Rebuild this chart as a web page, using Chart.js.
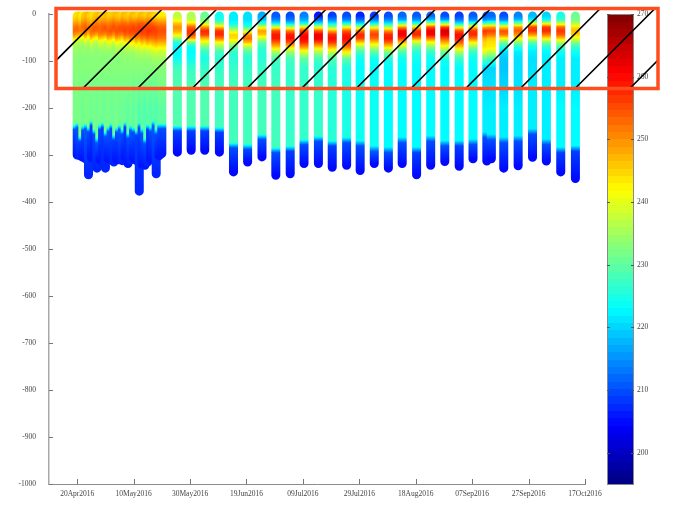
<!DOCTYPE html>
<html>
<head>
<meta charset="utf-8">
<script src="https://cdn.jsdelivr.net/npm/chart.js@4.4.0/dist/chart.umd.min.js"></script>
<style>
  body { margin: 0; background: #fff; }
  canvas { display: block; }
</style>
</head>
<body>
<canvas id="myChart" width="679" height="518"></canvas>
<script>
// x values are days since 20 Apr 2016
var tickDays = [0, 20, 40, 60, 80, 100, 120, 140, 160, 180];
var tickLabels = ['20Apr2016', '10May2016', '30May2016', '19Jun2016', '09Jul2016',
                  '29Jul2016', '18Aug2016', '07Sep2016', '27Sep2016', '17Oct2016'];
var colorTicks = [200, 210, 220, 230, 240, 250, 260, 270];
var cMin = 195, cMax = 270;

// depth levels (m) where each profile's colour was read
var upperDepths = [-4, -12, -20, -28, -36, -44, -52, -60, -70, -80, -95, -115, -150, -200];

var profileDays = [
  0, 1, 2, 3, 4, 5, 6, 7, 8, 9, 10, 11, 12, 13, 14, 15, 16, 17, 18, 19, 20,
  21, 22, 23, 24, 25, 26, 27, 28, 29, 30,
  35.5, 40.4, 45.2, 50.4, 55.4, 60.4, 65.5, 70.4, 75.5, 80.4, 85.5, 90.4,
  95.5, 100.3, 105.3, 110.3, 115.2, 120.3, 125.3, 130.3, 135.4, 140.3,
  145.2, 146.8, 151.2, 156.3, 161.4, 166.3, 171.4, 176.6
];

var upperTemps = [
  [244,246,249,252,253,250,244,238,235,234,233,233,232,232],
  [245,247,250,253,253,249,242,237,235,234,233,233,233,232],
  [243,245,248,251,252,248,241,236,234,233,233,233,232,232],
  [246,248,251,253,252,247,240,236,234,234,233,233,232,231],
  [247,249,252,254,254,250,244,238,235,234,233,233,232,232],
  [245,247,250,252,251,246,240,236,234,233,233,233,232,232],
  [244,246,249,252,253,251,246,240,236,234,233,233,232,231],
  [246,248,251,254,254,250,243,237,235,234,233,233,232,232],
  [247,249,252,254,253,248,241,236,234,233,233,233,232,231],
  [245,248,251,253,253,251,246,240,236,234,233,233,232,232],
  [246,249,252,254,254,251,245,239,236,234,233,233,232,231],
  [247,249,252,255,254,250,243,237,235,234,233,233,232,231],
  [245,248,251,253,254,252,247,241,237,234,233,233,232,232],
  [246,249,252,254,255,252,246,240,236,234,233,233,232,231],
  [247,250,253,255,254,250,244,238,235,234,233,233,232,231],
  [246,249,252,254,255,253,248,242,237,235,233,233,232,232],
  [245,248,252,255,255,252,247,241,237,235,233,233,232,231],
  [247,250,253,255,255,251,245,240,236,234,233,233,232,231],
  [246,249,253,255,256,254,249,243,238,235,234,233,232,231],
  [245,248,252,255,255,253,248,242,237,235,233,233,232,230],
  [247,250,253,255,256,254,250,244,238,235,234,233,232,231],
  [246,249,253,256,256,254,249,243,238,235,233,233,231,230],
  [245,249,253,255,256,255,251,246,240,236,234,233,232,231],
  [247,250,254,256,256,254,250,244,239,236,234,233,231,229],
  [246,250,254,256,257,255,252,247,241,237,234,233,232,230],
  [245,249,253,256,256,255,251,246,240,236,234,233,231,229],
  [247,250,254,256,257,256,253,248,242,237,234,233,232,230],
  [246,250,254,256,257,255,252,247,241,237,234,233,231,229],
  [245,249,253,256,256,255,252,248,243,238,235,233,231,230],
  [244,248,252,255,256,255,253,249,244,239,235,233,231,229],
  [243,247,251,254,255,254,252,248,243,238,235,233,232,230],
  [237,240,246,250,248,243,234,226,223,223,224,228,229,229],
  [236,237,244,254,257,256,248,232,224,223,224,227,229,229],
  [231,232,238,250,258,256,247,240,232,227,225,227,229,229],
  [224,225,232,246,257,258,252,242,234,228,226,227,228,228],
  [222,222,224,230,238,245,244,238,231,227,226,227,228,228],
  [221,221,223,228,238,250,253,247,236,229,226,227,228,228],
  [217,219,226,240,249,246,238,231,227,226,226,227,228,228],
  [211,214,222,240,255,259,259,254,246,236,228,227,228,228],
  [210,213,221,236,252,259,260,255,245,235,228,227,227,227],
  [214,217,224,243,256,260,261,258,250,240,230,227,227,227],
  [206,212,222,240,254,262,262,256,246,236,228,226,227,227],
  [209,214,222,234,248,258,260,257,248,238,229,226,226,226],
  [210,214,224,242,254,259,260,258,252,243,230,225,225,225],
  [207,212,221,236,252,258,256,246,235,228,224,223,224,224],
  [209,214,223,240,252,256,253,246,237,230,224,223,224,224],
  [210,214,222,236,250,258,259,254,244,233,225,223,223,223],
  [212,216,230,250,261,262,257,247,237,229,224,223,223,223],
  [211,215,226,245,257,258,250,238,230,226,224,223,223,223],
  [212,218,236,255,262,261,252,242,233,227,224,223,223,223],
  [210,216,234,256,264,262,255,248,240,232,225,223,223,223],
  [209,213,222,240,255,260,259,254,246,236,227,223,223,223],
  [211,215,226,246,257,258,252,243,234,227,224,223,223,223],
  [211,215,228,248,257,254,248,245,244,240,230,220,221,222],
  [212,216,230,249,256,252,246,244,243,238,228,220,221,222],
  [210,214,226,245,255,252,242,232,225,221,219,219,220,222],
  [214,218,232,250,254,250,242,233,226,222,221,221,221,222],
  [218,222,240,256,257,250,240,230,224,222,221,221,222,222],
  [220,223,240,256,258,252,243,233,226,223,222,222,222,222],
  [225,227,238,253,257,254,246,236,228,224,222,222,222,223],
  [231,232,236,244,247,245,240,233,227,224,222,222,222,223]
];

// depth where the blue deep layer begins
var thermoDepths = [
  -240, -236, -265, -242, -238, -245, -232, -250, -268, -240, -236, -255, -244, -238, -262, -246,
  -240, -250, -235, -258, -242, -246, -252, -236, -248, -270, -240, -244, -232, -250, -238,
  -243, -243, -243, -246, -279, -282, -261, -289, -286, -272, -265, -275,
  -268, -275, -286, -289, -268, -289, -265, -275, -275, -272,
  -257, -262, -268, -265, -250, -272, -289, -286
];
var blueTemps = [
  210, 211, 209, 210, 211, 210, 209, 210, 211, 210, 209, 210, 211, 210, 209, 210,
  211, 210, 209, 210, 211, 210, 209, 210, 211, 210, 209, 210, 211, 210, 210,
  209, 209, 209, 209, 210, 210, 210, 210, 209, 210, 210, 209,
  210, 210, 211, 210, 210, 209, 210, 210, 209, 210,
  210, 210, 210, 210, 210, 210, 209, 209
];
var bottomDepths = [
  -300, -302, -305, -308, -342, -305, -308, -328, -310, -312, -328, -308, -310, -315, -310, -310,
  -312, -305, -318, -310, -308, -312, -377, -320, -322, -315, -310, -308, -340, -302, -297,
  -294, -290, -290, -294, -336, -315, -304, -343, -340, -318, -318, -326,
  -322, -333, -318, -328, -318, -342, -322, -314, -324, -308,
  -313, -308, -328, -323, -305, -313, -336, -350
];
var bottomTemps = [
  206, 207, 206, 206, 207, 206, 206, 207, 206, 206, 207, 206, 206, 207, 206, 206,
  207, 206, 206, 207, 206, 206, 207, 206, 206, 207, 206, 206, 207, 206, 206,
  205, 205, 205, 205, 205, 205, 205, 205, 205, 205, 205, 205,
  205, 205, 205, 205, 205, 205, 205, 205, 205, 205,
  205, 205, 205, 205, 205, 205, 205, 205
];

function jet(t) {
  t = Math.max(0, Math.min(1, t));
  var r = Math.max(0, Math.min(1, 1.5 - Math.abs(4 * t - 3)));
  var g = Math.max(0, Math.min(1, 1.5 - Math.abs(4 * t - 2)));
  var b = Math.max(0, Math.min(1, 1.5 - Math.abs(4 * t - 1)));
  return 'rgb(' + Math.round(r * 255) + ',' + Math.round(g * 255) + ',' + Math.round(b * 255) + ')';
}
function tempColor(v) {
  return jet((v - cMin) / (cMax - cMin));
}

function profilePoints(i) {
  var pts = [];
  var day = profileDays[i];
  for (var j = 0; j < upperDepths.length; j++) {
    pts.push({x: day, y: upperDepths[j], t: upperTemps[i][j]});
  }
  pts.push({x: day, y: thermoDepths[i] + 6, t: upperTemps[i][upperDepths.length - 1]});
  pts.push({x: day, y: thermoDepths[i] - 6, t: blueTemps[i]});
  pts.push({x: day, y: bottomDepths[i], t: bottomTemps[i]});
  return pts;
}

// vertical gradient along the profile, coloured with the jet map
function profileGradient(context) {
  var chart = context.chart;
  if (!chart.chartArea) return 'rgba(0,0,0,0)';
  var ys = chart.scales.y;
  var pts = context.dataset.data;
  var y0 = ys.getPixelForValue(pts[0].y);
  var y1 = ys.getPixelForValue(pts[pts.length - 1].y);
  var grad = chart.ctx.createLinearGradient(0, y0, 0, y1);
  for (var k = 0; k < pts.length; k++) {
    var f = (ys.getPixelForValue(pts[k].y) - y0) / (y1 - y0);
    grad.addColorStop(Math.max(0, Math.min(1, f)), tempColor(pts[k].t));
    if (k < pts.length - 1) {
      var f2 = (ys.getPixelForValue(pts[k + 1].y) - y0) / (y1 - y0);
      for (var s = 1; s < 4; s++) {
        var a = s / 4;
        grad.addColorStop(f + (f2 - f) * a, tempColor(pts[k].t + (pts[k + 1].t - pts[k].t) * a));
      }
    }
  }
  return grad;
}

var datasets = [];
for (var i = 0; i < profileDays.length; i++) {
  datasets.push({
    data: profilePoints(i),
    showLine: true,
    borderWidth: 9,
    borderCapStyle: 'round',
    borderJoinStyle: 'round',
    borderColor: profileGradient,
    pointRadius: 0,
    pointHoverRadius: 0,
    tension: 0,
    clip: false,
    order: profileDays.length - i
  });
}

var extras = {
  id: 'extras',
  afterDraw: function(chart) {
    var ctx = chart.ctx;
    var area = chart.chartArea;
    var xs = chart.scales.x, ys = chart.scales.y, cs = chart.scales.cb;
    ctx.save();

    // inward tick marks
    ctx.strokeStyle = '#777';
    ctx.lineWidth = 1;
    ctx.beginPath();
    xs.ticks.forEach(function(t) {
      var px = Math.round(xs.getPixelForValue(t.value)) + 0.5;
      ctx.moveTo(px, area.bottom);
      ctx.lineTo(px, area.bottom - 5);
    });
    ys.ticks.forEach(function(t) {
      var py = Math.round(ys.getPixelForValue(t.value)) + 0.5;
      ctx.moveTo(area.left, py);
      ctx.lineTo(area.left + 4, py);
    });
    ctx.stroke();

    // colour bar
    var bx0 = area.right + 22, bw = 27;
    for (var k = 0; k < 64; k++) {
      var v0 = cMin + k * (cMax - cMin) / 64;
      var v1 = cMin + (k + 1) * (cMax - cMin) / 64;
      var py0 = cs.getPixelForValue(v1), py1 = cs.getPixelForValue(v0);
      ctx.fillStyle = jet((k + 0.5) / 64);
      ctx.fillRect(bx0, Math.floor(py0), bw, Math.ceil(py1) - Math.floor(py0));
    }
    ctx.strokeStyle = '#8a8a8a';
    ctx.strokeRect(bx0 + 0.5, cs.top + 0.5, bw - 1, cs.bottom - cs.top);
    ctx.strokeStyle = '#555';
    ctx.beginPath();
    colorTicks.forEach(function(v) {
      var py = Math.round(cs.getPixelForValue(v)) + 0.5;
      ctx.moveTo(bx0, py); ctx.lineTo(bx0 + 3, py);
      ctx.moveTo(bx0 + bw - 3, py); ctx.lineTo(bx0 + bw, py);
    });
    ctx.stroke();

    // hatched highlight box drawn over the picture
    var bxL = 56, bxR = 658, byT = 8.5, byB = 88.5;
    ctx.save();
    ctx.beginPath();
    ctx.rect(bxL, byT, bxR - bxL, byB - byT);
    ctx.clip();
    ctx.strokeStyle = '#000';
    ctx.lineWidth = 1.6;
    ctx.beginPath();
    for (var h = -2; h < 13; h++) {
      var hx = 82.7 + 54.7 * h;
      ctx.moveTo(hx, byB);
      ctx.lineTo(hx + (byB - byT), byT);
    }
    ctx.stroke();
    ctx.restore();
    ctx.strokeStyle = '#ff4d1f';
    ctx.lineWidth = 3.5;
    ctx.strokeRect(bxL, byT, bxR - bxL, byB - byT);

    ctx.restore();
  }
};

var tickFont = {family: 'Liberation Serif', size: 7.5};

new Chart(document.getElementById('myChart').getContext('2d'), {
  type: 'scatter',
  data: {datasets: datasets},
  plugins: [extras],
  options: {
    responsive: false,
    animation: false,
    events: [],
    layout: {padding: {top: 14, left: 0, right: 0, bottom: 0}},
    plugins: {legend: {display: false}, tooltip: {enabled: false}},
    scales: {
      x: {
        type: 'linear',
        position: 'bottom',
        min: -10,
        max: 180,
        afterBuildTicks: function(axis) {
          axis.ticks = tickDays.map(function(d) { return {value: d}; });
        },
        afterFit: function(axis) { axis.height = 34; },
        grid: {display: false},
        border: {display: true, color: '#8c8c8c', width: 1},
        ticks: {
          font: tickFont,
          color: '#444',
          padding: -2,
          maxRotation: 0,
          autoSkip: false,
          callback: function(value) {
            var idx = tickDays.indexOf(value);
            return idx >= 0 ? tickLabels[idx] : '';
          }
        }
      },
      y: {
        type: 'linear',
        position: 'left',
        min: -1000,
        max: 0,
        afterFit: function(axis) { axis.width = 49; },
        grid: {display: false},
        border: {display: true, color: '#a8a8a8', width: 1.5},
        ticks: {
          stepSize: 100,
          font: tickFont,
          color: '#444',
          padding: 5,
          callback: function(value) { return String(value); }
        }
      },
      cb: {
        type: 'linear',
        position: 'right',
        min: cMin,
        max: cMax,
        afterBuildTicks: function(axis) {
          axis.ticks = colorTicks.map(function(v) { return {value: v}; });
        },
        afterFit: function(axis) { axis.width = 94; },
        grid: {display: true, drawOnChartArea: false, drawTicks: true, tickLength: 49, tickColor: 'rgba(0,0,0,0)'},
        border: {display: false},
        ticks: {
          font: tickFont,
          color: '#444',
          padding: 3,
          callback: function(value) { return String(value); }
        }
      }
    }
  }
});
</script>
</body>
</html>
